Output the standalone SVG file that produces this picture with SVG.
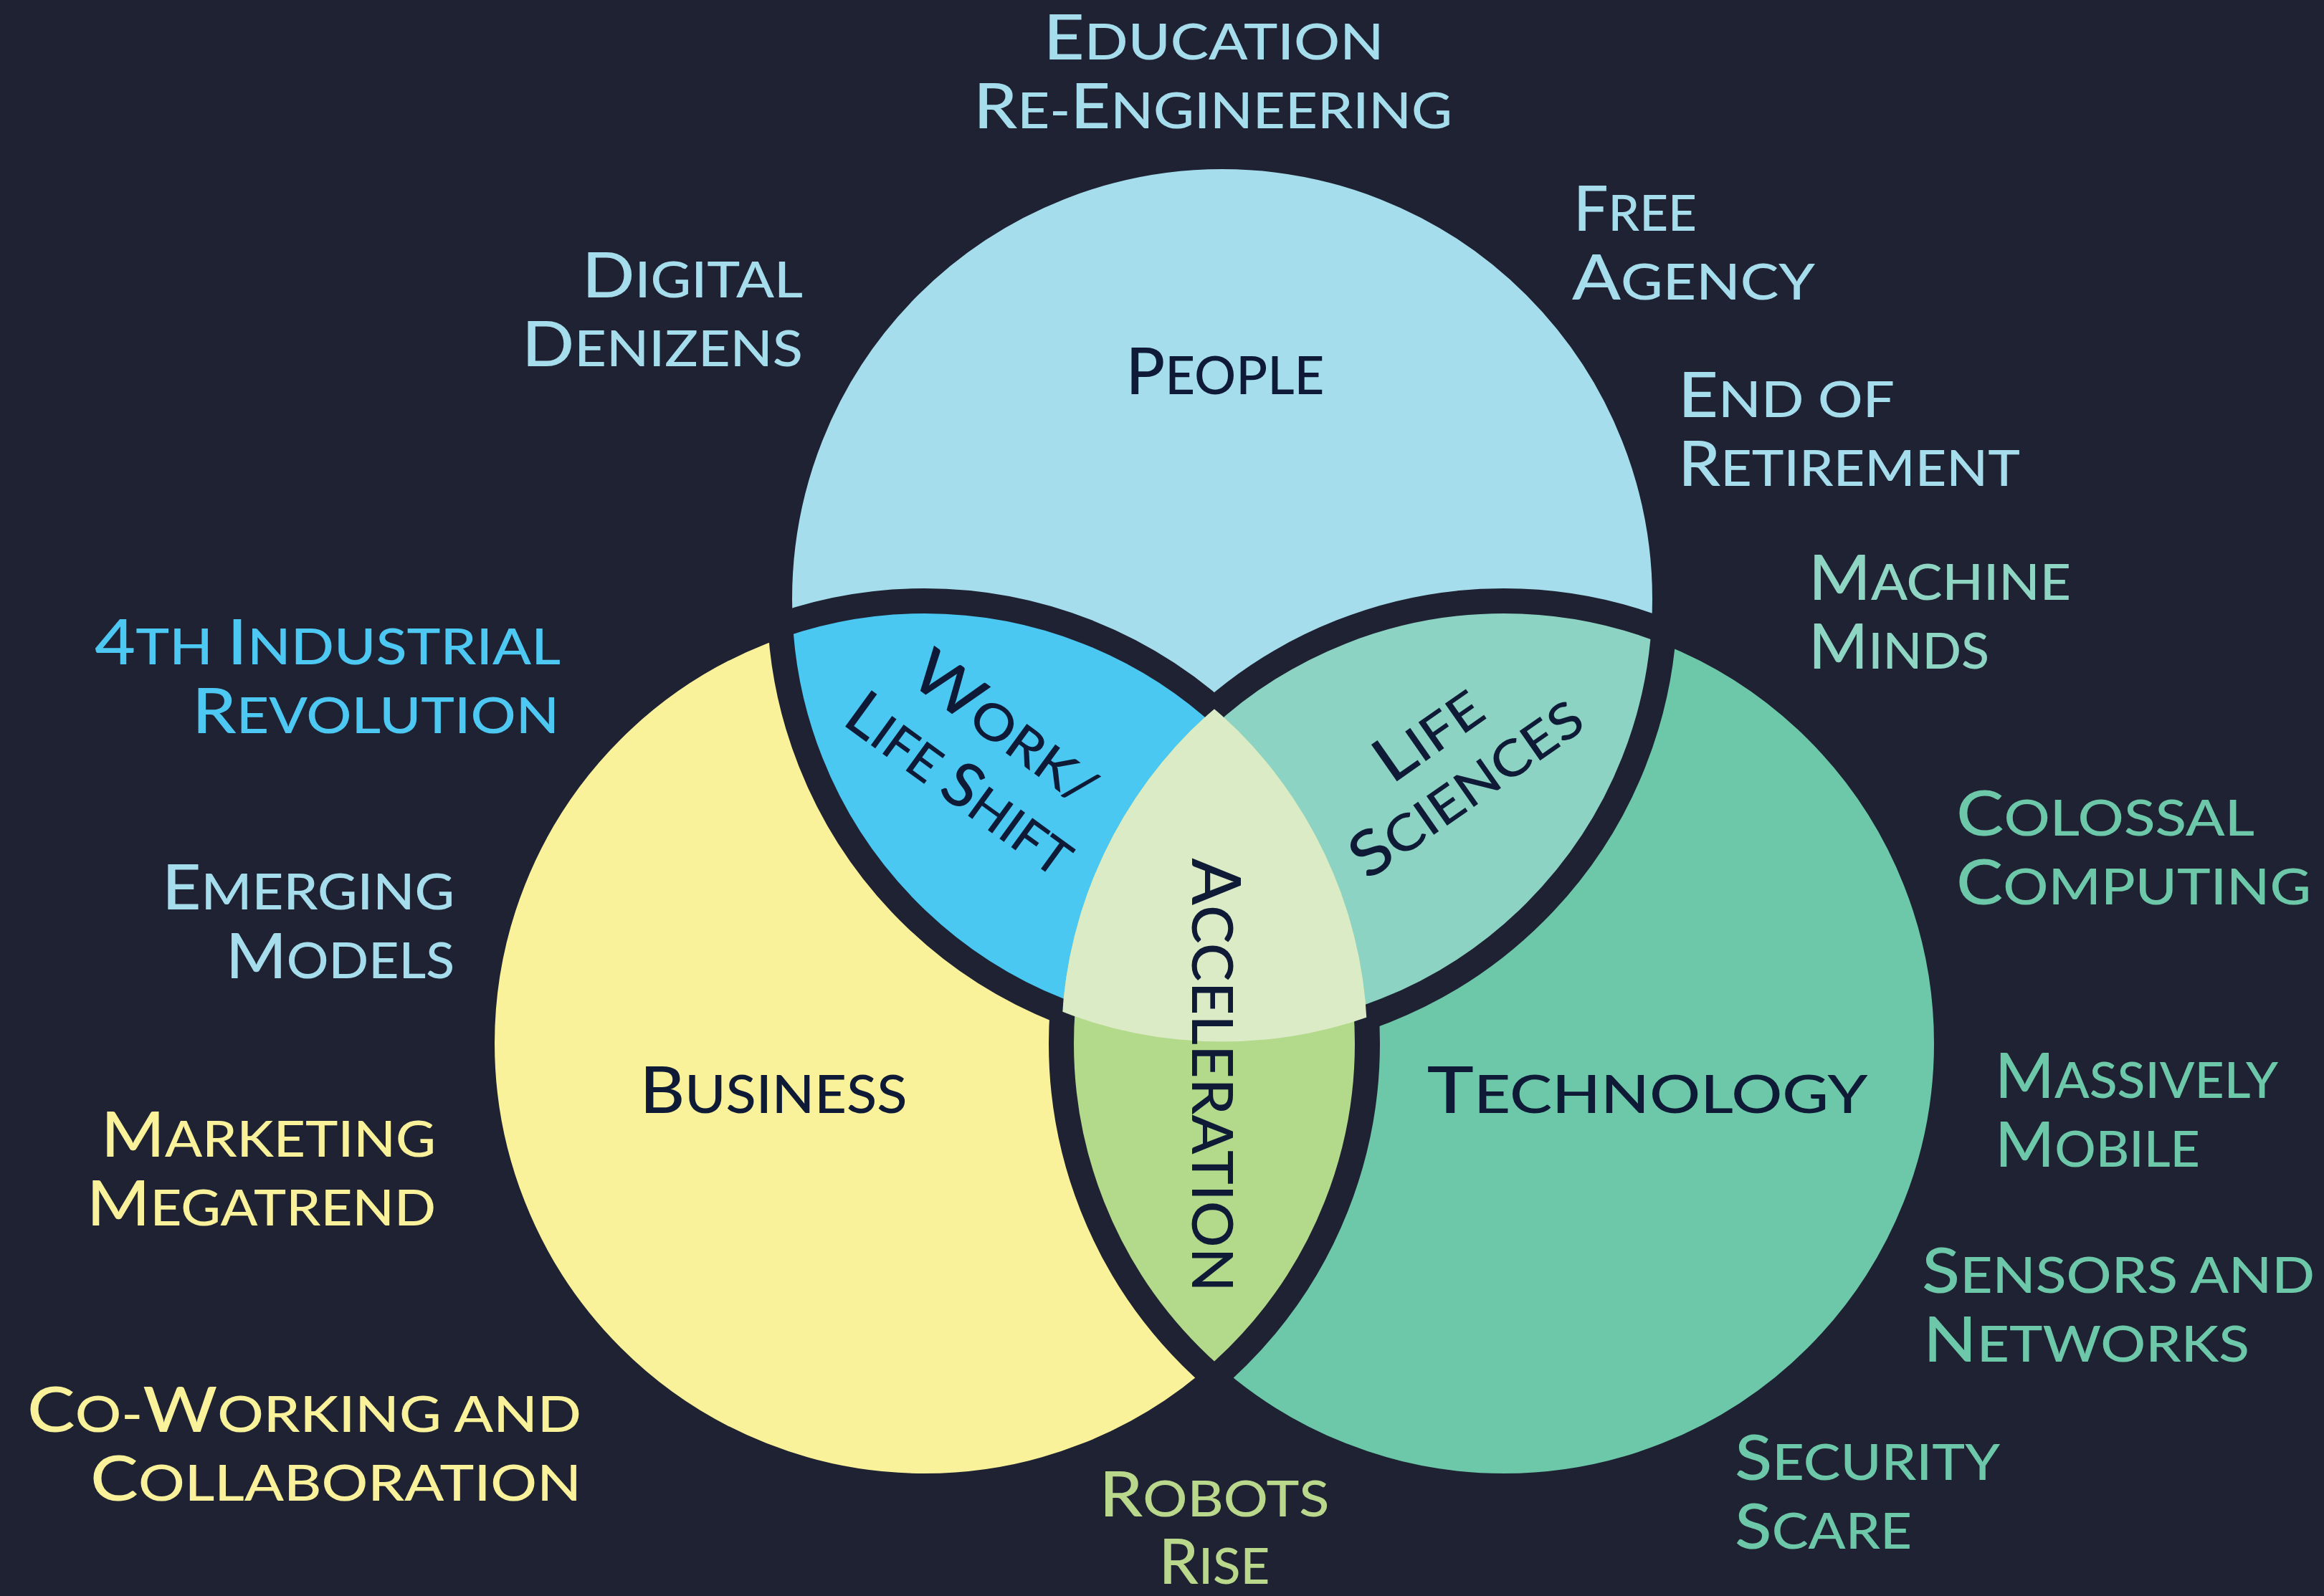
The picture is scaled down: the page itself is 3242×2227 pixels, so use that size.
<svg xmlns="http://www.w3.org/2000/svg" width="3242" height="2227" viewBox="0 0 3242 2227">
<style>
.t{font-family:Lato,"Open Sans","Liberation Sans",sans-serif;font-size:70px;font-weight:500}
.t .b{font-size:87px}
.c{font-family:Lato,"Open Sans","Liberation Sans",sans-serif;font-size:73px;font-weight:500;fill:#0E1A36}
.c .b{font-size:91px}
.pp{fill:#A6DDEC}.ib{fill:#4DC8F2}.yl{fill:#F9F29A}.tl{fill:#6CC8A8}.mm{fill:#8ED6C3}.rb{fill:#BAD88C}.dk{fill:#0E1A36}
.ring{fill:none;stroke:#1F2232;stroke-width:35}
</style>
<defs>
<clipPath id="cP"><circle cx="1705" cy="836" r="617.5"/></clipPath>
<clipPath id="cB"><circle cx="1290" cy="1456" r="617.5"/></clipPath>
<clipPath id="cT"><circle cx="2098" cy="1456" r="617.5"/></clipPath>
<mask id="mP" maskUnits="userSpaceOnUse" x="0" y="0" width="3242" height="2227"><rect width="3242" height="2227" fill="#fff"/><circle cx="1290" cy="1456" r="617.5" fill="#000" clip-path="url(#cT)"/></mask>
<mask id="mB" maskUnits="userSpaceOnUse" x="0" y="0" width="3242" height="2227"><rect width="3242" height="2227" fill="#fff"/><circle cx="1705" cy="836" r="617.5" fill="#000" clip-path="url(#cT)"/></mask>
<mask id="mT" maskUnits="userSpaceOnUse" x="0" y="0" width="3242" height="2227"><rect width="3242" height="2227" fill="#fff"/><circle cx="1705" cy="836" r="617.5" fill="#000" clip-path="url(#cB)"/></mask>
</defs>
<rect width="3242" height="2227" fill="#1F2232"/>
<g id="circle-business"><circle cx="1290" cy="1456" r="617.5" fill="#F9F29A"/></g>
<g id="circle-technology"><circle cx="2098" cy="1456" r="617.5" fill="#6CC8A8"/></g>
<g id="circle-people"><circle cx="1705" cy="836" r="617.5" fill="#A6DDEC"/></g>
<g id="region-work-life"><circle cx="1705" cy="836" r="617.5" fill="#4AC8F2" clip-path="url(#cB)"/></g>
<g id="region-life-sciences"><circle cx="1705" cy="836" r="617.5" fill="#8DD3C3" clip-path="url(#cT)"/></g>
<g id="region-acceleration"><circle cx="1290" cy="1456" r="617.5" fill="#B3D98A" clip-path="url(#cT)"/><g clip-path="url(#cB)"><circle cx="1705" cy="836" r="617.5" fill="#DAEBC5" clip-path="url(#cT)"/></g></g>
<g id="outlines">
<circle class="ring" cx="1705" cy="836" r="617.5" mask="url(#mP)"/>
<circle class="ring" cx="1290" cy="1456" r="617.5" mask="url(#mB)"/>
<circle class="ring" cx="2098" cy="1456" r="617.5" mask="url(#mT)"/>
</g>
<g id="connectors"/>
<g id="label-people" class="c"><text x="1709" y="550" text-anchor="middle" textLength="277" lengthAdjust="spacingAndGlyphs"><tspan class="b">P</tspan>EOPLE</text></g>
<g id="label-business" class="c"><text x="1079" y="1553" text-anchor="middle" textLength="373" lengthAdjust="spacingAndGlyphs"><tspan class="b">B</tspan>USINESS</text></g>
<g id="label-technology" class="c"><text x="2298" y="1553" text-anchor="middle" textLength="615" lengthAdjust="spacingAndGlyphs"><tspan class="b">T</tspan>ECHNOLOGY</text></g>
<g id="label-work-life" class="t dk">
<text transform="translate(1386.5,1038.7) rotate(36)" text-anchor="middle" textLength="300" lengthAdjust="spacingAndGlyphs"><tspan class="b">W</tspan>ORK/</text>
<text transform="translate(1322.5,1118) rotate(36)" text-anchor="middle" textLength="370" lengthAdjust="spacingAndGlyphs"><tspan class="b">L</tspan>IFE <tspan class="b">S</tspan>HIFT</text>
</g>
<g id="label-life-sciences" class="t dk">
<text transform="translate(2009,1048) rotate(-35)" text-anchor="middle" textLength="165" lengthAdjust="spacingAndGlyphs"><tspan class="b">L</tspan>IFE</text>
<text transform="translate(2061.5,1122) rotate(-35)" text-anchor="middle" textLength="375" lengthAdjust="spacingAndGlyphs"><tspan class="b">S</tspan>CIENCES</text>
</g>
<g id="label-acceleration" class="t dk" style="font-size:79px">
<text transform="translate(1663,1500) rotate(90)" text-anchor="middle" textLength="605" lengthAdjust="spacingAndGlyphs"><tspan style="font-size:94px">A</tspan>CCELERATION</text>
</g>
<g id="trend-education" class="t pp">
<text x="1693" y="83" text-anchor="middle" textLength="475" lengthAdjust="spacingAndGlyphs"><tspan class="b">E</tspan>DUCATION</text>
<text x="1692" y="179" text-anchor="middle" textLength="668" lengthAdjust="spacingAndGlyphs"><tspan class="b">R</tspan>E-<tspan class="b">E</tspan>NGINEERING</text>
</g>
<g id="trend-digital-denizens" class="t pp">
<text x="1120" y="415" text-anchor="end" textLength="308" lengthAdjust="spacingAndGlyphs"><tspan class="b">D</tspan>IGITAL</text>
<text x="1120" y="511" text-anchor="end" textLength="392" lengthAdjust="spacingAndGlyphs"><tspan class="b">D</tspan>ENIZENS</text>
</g>
<g id="trend-free-agency" class="t pp">
<text x="2195" y="322" textLength="172" lengthAdjust="spacingAndGlyphs"><tspan class="b">F</tspan>REE</text>
<text x="2193" y="418" textLength="339" lengthAdjust="spacingAndGlyphs"><tspan class="b">A</tspan>GENCY</text>
</g>
<g id="trend-end-of-retirement" class="t pp">
<text x="2341" y="582" textLength="302" lengthAdjust="spacingAndGlyphs"><tspan class="b">E</tspan>ND OF</text>
<text x="2341" y="678" textLength="477" lengthAdjust="spacingAndGlyphs"><tspan class="b">R</tspan>ETIREMENT</text>
</g>
<g id="trend-machine-minds" class="t mm">
<text x="2523" y="837" textLength="366" lengthAdjust="spacingAndGlyphs"><tspan class="b">M</tspan>ACHINE</text>
<text x="2523" y="933" textLength="252" lengthAdjust="spacingAndGlyphs"><tspan class="b">M</tspan>INDS</text>
</g>
<g id="trend-4th-industrial-revolution" class="t ib">
<text x="782" y="927" text-anchor="end" textLength="650" lengthAdjust="spacingAndGlyphs"><tspan class="b">4</tspan>TH <tspan class="b">I</tspan>NDUSTRIAL</text>
<text x="780" y="1023" text-anchor="end" textLength="512" lengthAdjust="spacingAndGlyphs"><tspan class="b">R</tspan>EVOLUTION</text>
</g>
<g id="trend-emerging-models" class="t pp">
<text x="634" y="1269" text-anchor="end" textLength="408" lengthAdjust="spacingAndGlyphs"><tspan class="b">E</tspan>MERGING</text>
<text x="634" y="1365" text-anchor="end" textLength="319" lengthAdjust="spacingAndGlyphs"><tspan class="b">M</tspan>ODELS</text>
</g>
<g id="trend-marketing-megatrend" class="t yl">
<text x="608" y="1614" text-anchor="end" textLength="467" lengthAdjust="spacingAndGlyphs"><tspan class="b">M</tspan>ARKETING</text>
<text x="608" y="1710" text-anchor="end" textLength="487" lengthAdjust="spacingAndGlyphs"><tspan class="b">M</tspan>EGATREND</text>
</g>
<g id="trend-co-working" class="t yl">
<text x="811" y="1998" text-anchor="end" textLength="773" lengthAdjust="spacingAndGlyphs"><tspan class="b">C</tspan>O-<tspan class="b">W</tspan>ORKING AND</text>
<text x="811" y="2094" text-anchor="end" textLength="685" lengthAdjust="spacingAndGlyphs"><tspan class="b">C</tspan>OLLABORATION</text>
</g>
<g id="trend-robots-rise" class="t rb">
<text x="1694" y="2116" text-anchor="middle" textLength="321" lengthAdjust="spacingAndGlyphs"><tspan class="b">R</tspan>OBOTS</text>
<text x="1694" y="2210" text-anchor="middle" textLength="155" lengthAdjust="spacingAndGlyphs"><tspan class="b">R</tspan>ISE</text>
</g>
<g id="trend-colossal-computing" class="t tl">
<text x="2729" y="1166" textLength="416" lengthAdjust="spacingAndGlyphs"><tspan class="b">C</tspan>OLOSSAL</text>
<text x="2729" y="1262" textLength="495" lengthAdjust="spacingAndGlyphs"><tspan class="b">C</tspan>OMPUTING</text>
</g>
<g id="trend-massively-mobile" class="t tl">
<text x="2783" y="1532" textLength="395" lengthAdjust="spacingAndGlyphs"><tspan class="b">M</tspan>ASSIVELY</text>
<text x="2783" y="1628" textLength="286" lengthAdjust="spacingAndGlyphs"><tspan class="b">M</tspan>OBILE</text>
</g>
<g id="trend-sensors-networks" class="t tl">
<text x="2681" y="1804" textLength="548" lengthAdjust="spacingAndGlyphs"><tspan class="b">S</tspan>ENSORS AND</text>
<text x="2683" y="1900" textLength="455" lengthAdjust="spacingAndGlyphs"><tspan class="b">N</tspan>ETWORKS</text>
</g>
<g id="trend-security-scare" class="t tl">
<text x="2420" y="2065" textLength="370" lengthAdjust="spacingAndGlyphs"><tspan class="b">S</tspan>ECURITY</text>
<text x="2420" y="2161" textLength="247" lengthAdjust="spacingAndGlyphs"><tspan class="b">S</tspan>CARE</text>
</g>
</svg>
